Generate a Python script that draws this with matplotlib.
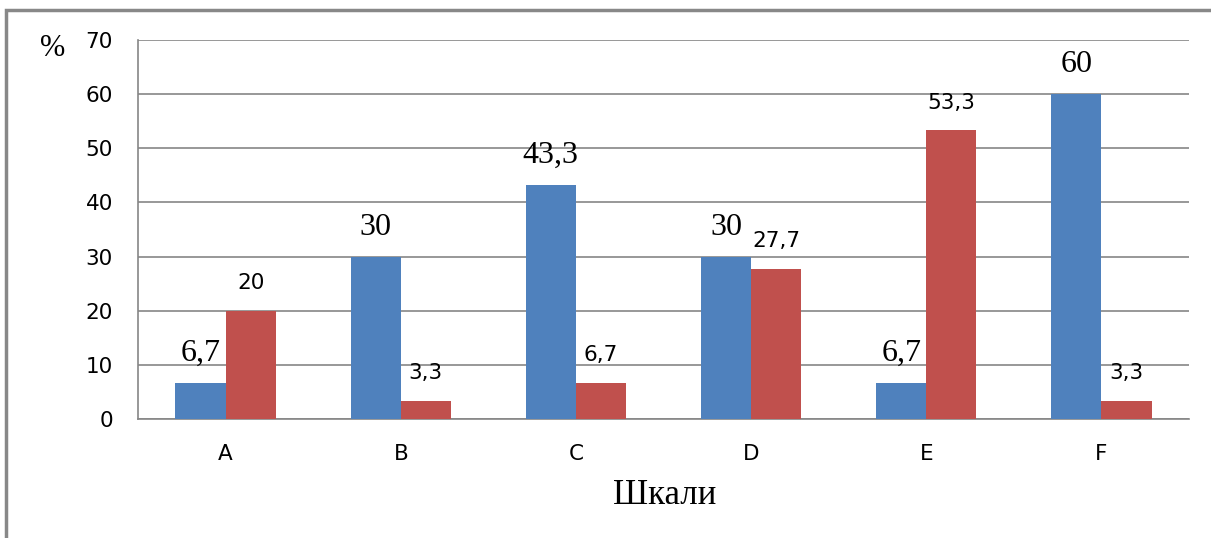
import matplotlib.pyplot as plt
import numpy as np
from matplotlib.patches import Rectangle

scales = ["A", "B", "C", "D", "E", "F"]
blue_vals = [6.7, 30, 43.3, 30, 6.7, 60]
red_vals = [20, 3.3, 6.7, 27.7, 53.3, 3.3]
yticks = [0, 10, 20, 30, 40, 50, 60, 70]

BLUE = "#4F81BD"
RED = "#C0504D"
GRID = "#868686"


def fmt(v):
    s = f"{v:g}"
    return s.replace(".", ",")


fig = plt.figure(figsize=(12.11, 5.38), dpi=100)
fig.patch.set_facecolor("white")

# outer frame (only top and left edges fall inside the canvas)
fig.patches.append(Rectangle((6 / 1211, -0.05), 1.2, 1 - 10 / 538 + 0.05,
                             transform=fig.transFigure, fill=False,
                             edgecolor="#888888", linewidth=2.5))

ax = fig.add_axes([138 / 1211, 1 - 419 / 538, (1189 - 138) / 1211, (419 - 40) / 538])

x = np.arange(len(scales))
w = 0.286
ax.bar(x - w / 2, blue_vals, width=w, color=BLUE, zorder=3)
ax.bar(x + w / 2, red_vals, width=w, color=RED, zorder=3)

for xi, v in zip(x, blue_vals):
    ax.annotate(fmt(v), (xi - w / 2, v), xytext=(0, 21), textcoords="offset points",
                ha="center", va="center", fontsize=23, family="Liberation Serif")
for xi, v in zip(x, red_vals):
    ax.annotate(fmt(v), (xi + w / 2, v), xytext=(0, 20), textcoords="offset points",
                ha="center", va="center", fontsize=15.5, family="DejaVu Sans")

ax.set_xlim(-0.5, len(scales) - 0.5)
ax.set_ylim(0, 70)
ax.set_yticks(yticks)
ax.set_xticks(x)
ax.set_xticklabels(scales)
ax.tick_params(axis="both", length=0, labelsize=15.5)
ax.tick_params(axis="y", pad=18)
ax.tick_params(axis="x", pad=18)
ax.grid(axis="y", color=GRID, linewidth=1.2, zorder=0)

for side in ["top", "right"]:
    ax.spines[side].set_visible(False)
for side in ["left", "bottom"]:
    ax.spines[side].set_color(GRID)
    ax.spines[side].set_linewidth(1.2)

fig.text(665 / 1211, 1 - 495 / 538, "Шкали", ha="center", va="center",
         fontsize=25, family="Liberation Serif")
fig.text(53 / 1211, 1 - 48 / 538, "%", ha="center", va="center",
         fontsize=22, family="Liberation Serif")

fig.savefig("out.png", dpi=100)
